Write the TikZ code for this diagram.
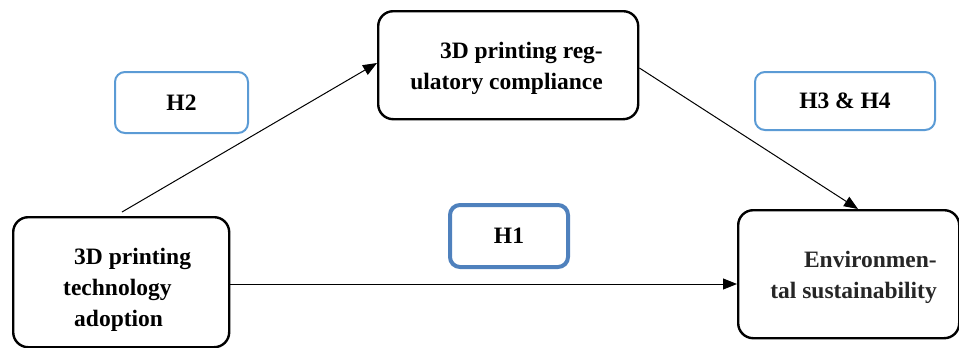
\documentclass[tikz,border=0pt]{standalone}
\usepackage{fontspec}
\setmainfont{Liberation Serif}
\usetikzlibrary{arrows.meta}
\definecolor{hlight}{RGB}{91,155,213}
\definecolor{hdark}{RGB}{79,129,189}
\begin{document}
\begin{tikzpicture}[x=1pt,y=-1pt,
  box/.style={draw, line width=2.4pt, rounded corners=15pt, anchor=north west, inner sep=0pt},
  hyp/.style={draw=hlight, line width=2pt, rounded corners=10pt, inner sep=0pt,
    font=\bfseries\fontsize{23.5}{31}\selectfont},
  lbl/.style={font=\bfseries\fontsize{23.5}{31}\selectfont, inner sep=0pt},
  link/.style={line width=1pt, -{Triangle[length=14pt,width=11pt]}}]
\useasboundingbox (0,0) rectangle (959,348);

% variable boxes
\node[box, minimum width=216pt, minimum height=130pt] (adopt) at (12,216) {};
\node[box, minimum width=260pt, minimum height=108pt] (comply) at (377,10) {};
\node[box, minimum width=221pt, minimum height=128pt] (env) at (737,209) {};

% box labels (base anchor = baseline of the last line)
\node[lbl, align=left, anchor=base west] (adoptT) at (63,326)
  {\hspace{11pt}3D printing\\technology\\\hspace{11pt}adoption};
\node[lbl, align=right, anchor=base east] (complyT) at (603,89)
  {3D printing reg-\\ulatory compliance};
\node[lbl, align=right, anchor=base east, text=black!85] (envT) at (937,298)
  {Environmen-\\tal sustainability};

% hypothesis tags
\node[hyp, minimum width=133pt, minimum height=61pt] (h2) at (181.5,102.5) {H2};
\node[hyp, draw=hdark, line width=4pt, minimum width=118pt, minimum height=62pt] (h1) at (509,236) {H1};
\node[hyp, minimum width=180pt, minimum height=58pt] (h34) at (845,101) {H3 \& H4};

% paths
\coordinate (s2) at (122,212);
\coordinate (e3) at (858,209);
\draw[link] (s2) -- (comply.west |- 0,63);
\draw[link] (comply.east |- 0,68) -- (e3);
\draw[link] (adopt.east |- 0,284) -- (env.west |- 0,284);
\end{tikzpicture}
\end{document}
